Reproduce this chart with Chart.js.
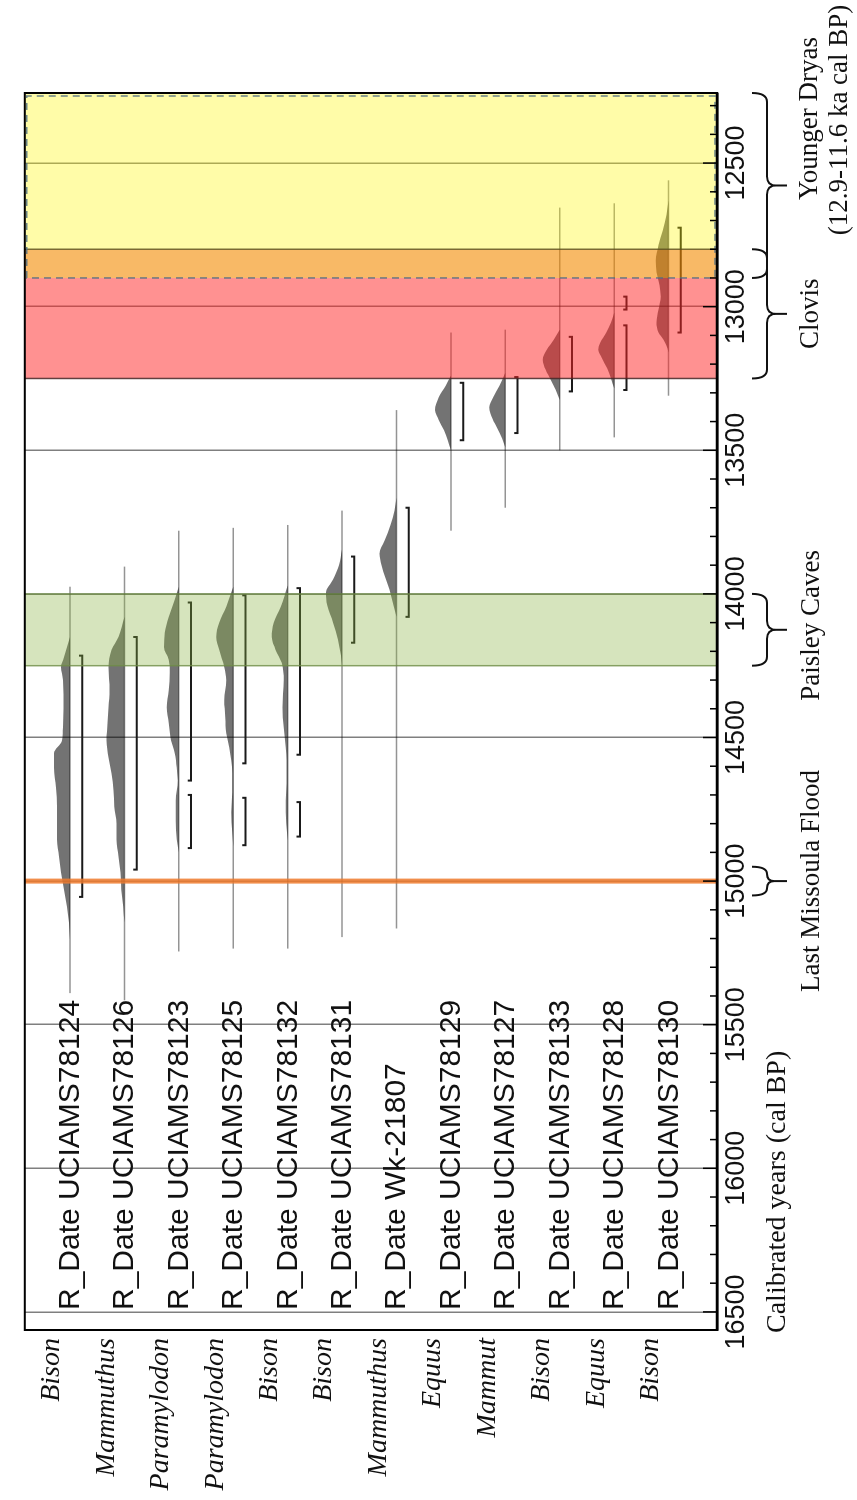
<!DOCTYPE html>
<html>
<head>
<meta charset="utf-8">
<title>Calibrated radiocarbon dates</title>
<script src="https://cdn.jsdelivr.net/npm/chart.js@4.4.1/dist/chart.umd.min.js"></script>
<style>
  html, body { margin: 0; padding: 0; background: #fff; overflow: hidden; }
  /* plot is laid out landscape, then turned to read bottom-to-top */
  #wrap {
    position: absolute; left: 0; top: 0;
    width: 1500px; height: 857px;
    transform-origin: 0 0;
    transform: translateY(1500px) rotate(-90deg);
  }
</style>
</head>
<body>
<div id="wrap"><canvas id="myChart" width="1500" height="857"></canvas></div>
<script>
const rowLabels = [
  'R_Date UCIAMS78124', 'R_Date UCIAMS78126', 'R_Date UCIAMS78123', 'R_Date UCIAMS78125',
  'R_Date UCIAMS78132', 'R_Date UCIAMS78131', 'R_Date Wk-21807', 'R_Date UCIAMS78129',
  'R_Date UCIAMS78127', 'R_Date UCIAMS78133', 'R_Date UCIAMS78128', 'R_Date UCIAMS78130'
];
const genusLabels = [
  'Bison', 'Mammuthus', 'Paramylodon', 'Paramylodon', 'Bison', 'Bison',
  'Mammuthus', 'Equus', 'Mammut', 'Bison', 'Equus', 'Bison'
];

// extent of each calibrated distribution (cal BP)
const spanStart = [13975, 13905, 13780, 13770, 13760, 13710, 13360, 13090, 13080, 12655, 12640, 12560];
const spanEnd   = [15390, 15415, 15245, 15235, 15235, 15195, 15165, 13780, 13700, 13500, 13455, 13310];

// 95.4% ranges
const rangeBrackets = [
  [[14215, 15055]],
  [[14150, 14960]],
  [[14030, 14650], [14700, 14885]],
  [[14005, 14590], [14710, 14875]],
  [[13980, 14560], [14725, 14845]],
  [[13870, 14170]],
  [[13700, 14080]],
  [[13265, 13465]],
  [[13245, 13440]],
  [[13105, 13295]],
  [[12965, 13010], [13065, 13290]],
  [[12725, 13090]]
];

// relative probability, [cal BP, p]
const prob78124 = [[14150, 0], [14220, 0.33], [14255, 0.5], [14300, 0.39], [14400, 0.36], [14465, 0.39],
  [14510, 0.44], [14555, 0.89], [14605, 0.89], [14675, 0.78], [14740, 0.72], [14800, 0.72],
  [14855, 0.72], [14915, 0.61], [14970, 0.5], [15030, 0.33], [15090, 0.17], [15145, 0.06], [15205, 0]];
const prob78126 = [[14080, 0], [14150, 0.33], [14195, 0.72], [14255, 0.89], [14335, 0.83], [14395, 0.89],
  [14450, 0.94], [14510, 1.0], [14570, 0.89], [14625, 0.72], [14685, 0.61], [14740, 0.56],
  [14800, 0.44], [14855, 0.44], [14915, 0.33], [14970, 0.22], [15030, 0.17], [15090, 0.06], [15145, 0]];
const prob78123 = [[13975, 0], [14020, 0.22], [14080, 0.56], [14135, 0.78], [14185, 0.83], [14230, 0.56],
  [14275, 0.5], [14335, 0.56], [14395, 0.67], [14450, 0.56], [14510, 0.44], [14555, 0.22],
  [14605, 0.11], [14650, 0.06], [14720, 0.17], [14790, 0.17], [14855, 0.11], [14900, 0]];
const prob78125 = [[13975, 0], [14045, 0.39], [14100, 0.78], [14150, 0.94], [14195, 0.78], [14255, 0.5],
  [14300, 0.39], [14370, 0.5], [14430, 0.44], [14485, 0.39], [14535, 0.22], [14580, 0.11],
  [14625, 0.06], [14690, 0.06], [14760, 0.11], [14830, 0.06], [14880, 0]];
const prob78132 = [[13970, 0], [14045, 0.39], [14100, 0.78], [14150, 0.89], [14195, 0.67], [14240, 0.33],
  [14300, 0.22], [14395, 0.28], [14465, 0.22], [14535, 0.11], [14580, 0.06], [14640, 0.06],
  [14720, 0.11], [14800, 0.08], [14860, 0]];
const prob78131 = [[13845, 0], [13900, 0.17], [13950, 0.5], [13995, 0.89], [14040, 0.83], [14100, 0.5],
  [14160, 0.22], [14215, 0.06], [14250, 0]];
const probWk21807 = [[13665, 0], [13710, 0.11], [13760, 0.33], [13815, 0.67], [13860, 0.94], [13900, 0.83],
  [13945, 0.61], [13985, 0.39], [14040, 0.17], [14080, 0]];
const prob78129 = [[13240, 0], [13275, 0.28], [13315, 0.67], [13360, 0.89], [13395, 0.67], [13430, 0.39],
  [13465, 0.17], [13500, 0]];
const prob78127 = [[13230, 0], [13275, 0.33], [13315, 0.67], [13350, 0.89], [13390, 0.72], [13425, 0.44],
  [13460, 0.17], [13490, 0]];
const prob78133 = [[13080, 0], [13115, 0.33], [13150, 0.72], [13185, 0.94], [13220, 0.78], [13255, 0.5],
  [13290, 0.22], [13325, 0]];
const prob78128 = [[13020, 0], [13055, 0.17], [13090, 0.44], [13125, 0.78], [13150, 0.89], [13180, 0.67],
  [13215, 0.39], [13250, 0.17], [13285, 0]];
const prob78130 = [[12630, 0], [12680, 0.11], [12735, 0.33], [12785, 0.56], [12840, 0.72], [12880, 0.67],
  [12925, 0.5], [12965, 0.44], [13010, 0.56], [13055, 0.67], [13090, 0.56], [13115, 0.28],
  [13145, 0.06], [13160, 0]];
const densities = [prob78124, prob78126, prob78123, prob78125, prob78132, prob78131,
  probWk21807, prob78129, prob78127, prob78133, prob78128, prob78130];

const yearTicks = [12500, 13000, 13500, 14000, 14500, 15000, 15500, 16000, 16500];

// events (cal BP)
const youngerDryas = [12900, 11600];
const clovis = [13250, 12800];
const paisleyCaves = [14250, 14000];
const missoulaFlood = 15000;

const PEAK = 0.33;   // row units for p = 1
const DROP = 0.225;  // range bar below the baseline
const HOOK = 0.06;

Chart.defaults.font.family = '"Liberation Sans", Arial, sans-serif';

var datasets = [];
for (let i = 0; i < rowLabels.length; ++i) {
  let row = i + 1;
  datasets.push({
    data: [{x: spanStart[i], y: row}, {x: spanEnd[i], y: row}],
    borderColor: 'rgba(0,0,0,0.42)',
    borderWidth: 1.5,
    pointRadius: 0,
    fill: false
  });
  datasets.push({
    data: densities[i].map(p => ({x: p[0], y: row - p[1] * PEAK})),
    borderWidth: 0,
    borderColor: 'rgba(0,0,0,0)',
    backgroundColor: 'rgba(0,0,0,0.55)',
    pointRadius: 0,
    cubicInterpolationMode: 'monotone',
    fill: {value: row}
  });
  let pts = [];
  rangeBrackets[i].forEach(function(r, k) {
    if (k > 0) pts.push({x: r[0], y: null});
    pts.push({x: r[0], y: row + DROP - HOOK}, {x: r[0], y: row + DROP},
             {x: r[1], y: row + DROP}, {x: r[1], y: row + DROP - HOOK});
  });
  datasets.push({
    data: pts,
    borderColor: '#1a1a1a',
    borderWidth: 2,
    pointRadius: 0,
    spanGaps: false,
    fill: false
  });
}

// climate / site bands, frame, row labels and braces
const overlays = {
  id: 'overlays',
  afterDatasetsDraw(chart) {
    const ctx = chart.ctx;
    const area = chart.chartArea;
    const x = chart.scales.x;
    const y = chart.scales.y;
    const px = v => Math.min(Math.max(x.getPixelForValue(v), area.left), area.right);

    ctx.save();
    function band(from, to, color) {
      const a = Math.min(px(from), px(to));
      const b = Math.max(px(from), px(to));
      ctx.fillStyle = color;
      ctx.fillRect(a, area.top, b - a, area.bottom - area.top);
    }
    function vline(v, color, width) {
      const p = px(v);
      ctx.beginPath();
      ctx.strokeStyle = color;
      ctx.lineWidth = width;
      ctx.moveTo(p, area.top);
      ctx.lineTo(p, area.bottom);
      ctx.stroke();
    }
    band(clovis[1], youngerDryas[1], 'rgba(255,246,6,0.35)');
    band(youngerDryas[0], clovis[1], 'rgba(243,138,0,0.6)');
    band(clovis[0], youngerDryas[0], 'rgba(255,35,35,0.5)');
    band(paisleyCaves[0], paisleyCaves[1], 'rgba(138,178,66,0.35)');
    vline(clovis[1], 'rgba(90,80,30,0.8)', 1.5);
    vline(clovis[0], 'rgba(70,40,40,0.85)', 1.5);
    vline(paisleyCaves[0], 'rgba(110,140,70,0.8)', 1.5);
    vline(paisleyCaves[1], 'rgba(110,140,70,0.8)', 1.5);

    ctx.setLineDash([7, 5]);
    ctx.strokeStyle = 'rgba(80,110,130,0.85)';
    ctx.lineWidth = 1.5;
    const yd = px(youngerDryas[0]);
    ctx.strokeRect(yd, area.top + 2, area.right - 3 - yd, area.bottom - area.top - 4);
    ctx.setLineDash([]);

    vline(missoulaFlood, 'rgba(238,122,45,0.85)', 5);

    // frame
    ctx.strokeStyle = '#000';
    ctx.lineWidth = 2;
    ctx.strokeRect(area.left, area.top, area.right - area.left, area.bottom - area.top);
    ctx.lineWidth = 2.5;
    ctx.beginPath();
    ctx.moveTo(area.left, area.bottom);
    ctx.lineTo(area.right, area.bottom);
    ctx.stroke();

    // inward tick marks every 100 years
    ctx.beginPath();
    ctx.lineWidth = 1.5;
    for (let v = 12300; v <= 16500; v += 100) {
      const p = x.getPixelForValue(v);
      const len = v % 500 === 0 ? 14 : 7;
      ctx.moveTo(p, area.bottom);
      ctx.lineTo(p, area.bottom - len);
    }
    ctx.stroke();

    // sample names
    ctx.fillStyle = '#111';
    ctx.font = '30px "Liberation Sans"';
    ctx.textAlign = 'left';
    ctx.textBaseline = 'alphabetic';
    rowLabels.forEach(function(t, i) {
      ctx.fillText(t, area.left + 20, y.getPixelForValue(i + 1) + 9);
    });

    // axis title, starting at the old end of the axis
    ctx.font = '28px "Liberation Serif"';
    ctx.fillText('Calibrated years (cal BP)', area.left - 3, area.bottom + 68);

    // braces under the axis
    function brace(from, to) {
      let a = px(from), b = px(to);
      if (a > b) { const t = a; a = b; b = t; }
      const top = area.bottom + 35, mid = area.bottom + 50, tip = area.bottom + 70;
      const xm = (a + b) / 2;
      const r = Math.min(9, (b - a) / 4);
      ctx.beginPath();
      ctx.moveTo(a, top);
      ctx.quadraticCurveTo(a, mid, a + r, mid);
      ctx.lineTo(xm - r, mid);
      ctx.quadraticCurveTo(xm, mid, xm, mid + r);
      ctx.lineTo(xm, tip);
      ctx.moveTo(xm, mid + r);
      ctx.quadraticCurveTo(xm, mid, xm + r, mid);
      ctx.lineTo(b - r, mid);
      ctx.quadraticCurveTo(b, mid, b, top);
      ctx.stroke();
    }
    ctx.strokeStyle = '#111';
    ctx.lineWidth = 2;
    brace(youngerDryas[0], youngerDryas[1]);
    brace(clovis[0], clovis[1]);
    brace(paisleyCaves[0], paisleyCaves[1]);
    brace(missoulaFlood - 50, missoulaFlood + 50);

    ctx.font = '27px "Liberation Serif"';
    ctx.textAlign = 'center';
    ctx.fillText('Younger Dryas', x.getPixelForValue(12345), area.bottom + 100);
    ctx.fillText('(12.9-11.6 ka cal BP)', x.getPixelForValue(12350), area.bottom + 130);
    ctx.fillText('Clovis', x.getPixelForValue((clovis[0] + clovis[1]) / 2), area.bottom + 101);
    ctx.fillText('Paisley Caves', x.getPixelForValue(14110), area.bottom + 102);
    ctx.fillText('Last Missoula Flood', x.getPixelForValue(missoulaFlood), area.bottom + 102);
    ctx.restore();
  }
};

var ctx = document.getElementById('myChart').getContext('2d');
new Chart(ctx, {
  type: 'line',
  data: { datasets: datasets },
  options: {
    responsive: false,
    animation: false,
    layout: { padding: { left: 0, right: 93, top: 10, bottom: 0 } },
    plugins: { legend: { display: false }, tooltip: { enabled: false } },
    scales: {
      x: {
        type: 'linear',
        position: 'bottom',
        reverse: true,
        min: 12256,
        max: 16563,
        afterBuildTicks: function(axis) { axis.ticks = yearTicks.map(v => ({value: v})); },
        afterFit: function(axis) { axis.height = 140; },
        ticks: {
          autoSkip: false,
          maxRotation: 0,
          padding: 3,
          color: '#111',
          font: { family: 'Liberation Sans', size: 27 },
          callback: v => String(v)
        },
        grid: { color: 'rgba(0,0,0,0.5)', lineWidth: 1.5, drawTicks: false },
        border: { display: true, color: '#000', width: 2.5 },
        title: { display: false }
      },
      y: {
        type: 'linear',
        reverse: true,
        min: 0.17,
        max: 12.89,
        afterBuildTicks: function(axis) {
          axis.ticks = genusLabels.map((g, i) => ({value: i + 1 - 0.33}));
        },
        afterFit: function(axis) { axis.width = 170; },
        ticks: {
          autoSkip: false,
          padding: 8,
          color: '#111',
          font: { family: 'Liberation Serif', size: 28, style: 'italic' },
          callback: v => genusLabels[Math.round(v) - 1]
        },
        grid: { display: false, drawTicks: false },
        border: { display: false }
      }
    }
  },
  plugins: [overlays]
});
</script>
</body>
</html>
